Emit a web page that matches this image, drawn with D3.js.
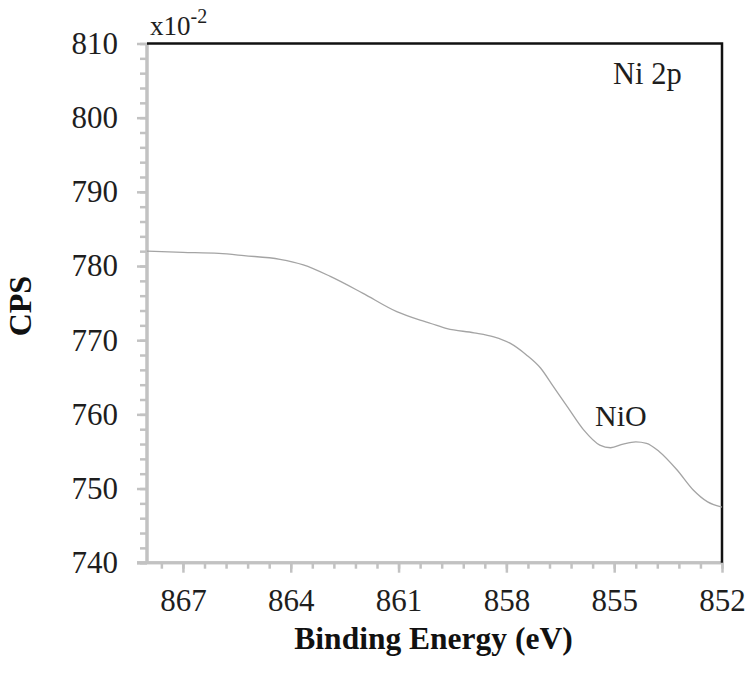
<!DOCTYPE html>
<html>
<head>
<meta charset="utf-8">
<script src="https://cdn.jsdelivr.net/npm/d3@7"></script>
<style>
  html, body { margin: 0; padding: 0; background: #fff; }
  svg { display: block; }
</style>
</head>
<body>
<svg id="chart" width="752" height="675"></svg>
<script>
// Data (CPS shown in units of x10^-2)
const energy = [868.0, 867.0, 866.0, 865.3, 864.3, 863.65, 862.9, 862.0, 861.05, 860.4,
                860.1, 859.65, 858.9, 858.35, 857.9, 857.45, 857.05, 856.7, 856.3, 855.85,
                855.4, 855.1, 854.75, 854.4, 854.1, 853.75, 853.25, 852.8, 852.4, 852.0];
const cps    = [782.0, 781.85, 781.7, 781.4, 780.9, 780.15, 778.6, 776.35, 773.85, 772.7,
                772.25, 771.55, 771.0, 770.45, 769.6, 768.05, 766.25, 763.8, 761.0, 757.9,
                755.85, 755.5, 756.0, 756.3, 756.1, 755.0, 752.5, 749.8, 748.2, 747.5];
const xMajorTicks = [867, 864, 861, 858, 855, 852];
const yMajorTicks = [740, 750, 760, 770, 780, 790, 800, 810];
const xDomain = [868, 852];
const yDomain = [740, 810];

(function () {
const svg = d3.select("#chart");
const pLeft = 147, pRight = 722, pTop = 43.5, pBottom = 562.7;
const x = d3.scaleLinear().domain(xDomain).range([pLeft, pRight]);
const y = d3.scaleLinear().domain(yDomain).range([pBottom, pTop]);

const font = "'Liberation Serif', 'Times New Roman', serif";
const axisGrey = "#c2c2c2";
const textCol = "#1e1e1e";

const xMinor = d3.range(0, 27).map(i => 852 + i * 0.6).filter(v => v <= 868.001);
const yMinor = d3.range(740, 811, 2);

const gyMinor = svg.append("g").attr("transform", `translate(${pLeft},0)`)
  .call(d3.axisLeft(y).tickValues(yMinor).tickSize(7).tickFormat(""));
const gy = svg.append("g").attr("transform", `translate(${pLeft},0)`)
  .call(d3.axisLeft(y).tickValues(yMajorTicks).tickSize(10).tickPadding(19).tickFormat(d3.format("d")));
const gxMinor = svg.append("g").attr("transform", `translate(0,${pBottom})`)
  .call(d3.axisBottom(x).tickValues(xMinor).tickSize(6).tickFormat(""));
const gx = svg.append("g").attr("transform", `translate(0,${pBottom})`)
  .call(d3.axisBottom(x).tickValues(xMajorTicks).tickSize(10).tickPadding(16).tickFormat(d3.format("d")));

[gyMinor, gy, gxMinor, gx].forEach(g => {
  g.select(".domain").attr("stroke", axisGrey).attr("stroke-width", 3);
  g.selectAll(".tick line").attr("stroke", axisGrey).attr("stroke-width", 2.5);
  g.selectAll(".tick text").attr("fill", textCol).style("font-family", font).style("font-size", "31px");
});
gyMinor.select(".domain").attr("d", `M0,${pBottom}V${pTop}`);
gy.select(".domain").attr("d", `M0,${pBottom}V${pTop}`);
gxMinor.select(".domain").attr("d", `M${pLeft - 10},0H${pRight}`);
gx.select(".domain").attr("d", `M${pLeft - 10},0H${pRight}`);

// Top and right frame (black)
svg.append("path")
  .attr("d", `M${pLeft},${pTop}H${pRight}V${pBottom}`)
  .attr("fill", "none").attr("stroke", "#111").attr("stroke-width", 2.5);

// Curve
const line = d3.line()
  .x((d, i) => x(energy[i]))
  .y(d => y(d))
  .curve(d3.curveMonotoneX);
svg.append("path")
  .attr("d", line(cps))
  .attr("fill", "none")
  .attr("stroke", "#a4a4a4")
  .attr("stroke-width", 1.3);

// Multiplier label
const mult = svg.append("text").attr("x", 150).attr("y", 35)
  .attr("fill", textCol).style("font-family", font).style("font-size", "27px");
mult.append("tspan").text("x10");
mult.append("tspan").attr("dy", -12.5).style("font-size", "20px").text("-2");

// Annotations
svg.append("text").attr("x", 613).attr("y", 83.5)
  .attr("fill", textCol).style("font-family", font).style("font-size", "30.5px").text("Ni 2p");
svg.append("text").attr("x", 595).attr("y", 426)
  .attr("fill", textCol).style("font-family", font).style("font-size", "30px").text("NiO");

// Axis titles
svg.append("text")
  .attr("transform", `translate(31,${(pTop + pBottom) / 2 + 3}) rotate(-90)`)
  .attr("text-anchor", "middle")
  .attr("fill", "#111").style("font-family", font).style("font-size", "32px").style("font-weight", "bold")
  .text("CPS");
svg.append("text")
  .attr("x", 433.5).attr("y", 649)
  .attr("text-anchor", "middle")
  .attr("fill", "#111").style("font-family", font).style("font-size", "31.5px").style("font-weight", "bold")
  .text("Binding Energy (eV)");
})();
</script>
</body>
</html>
